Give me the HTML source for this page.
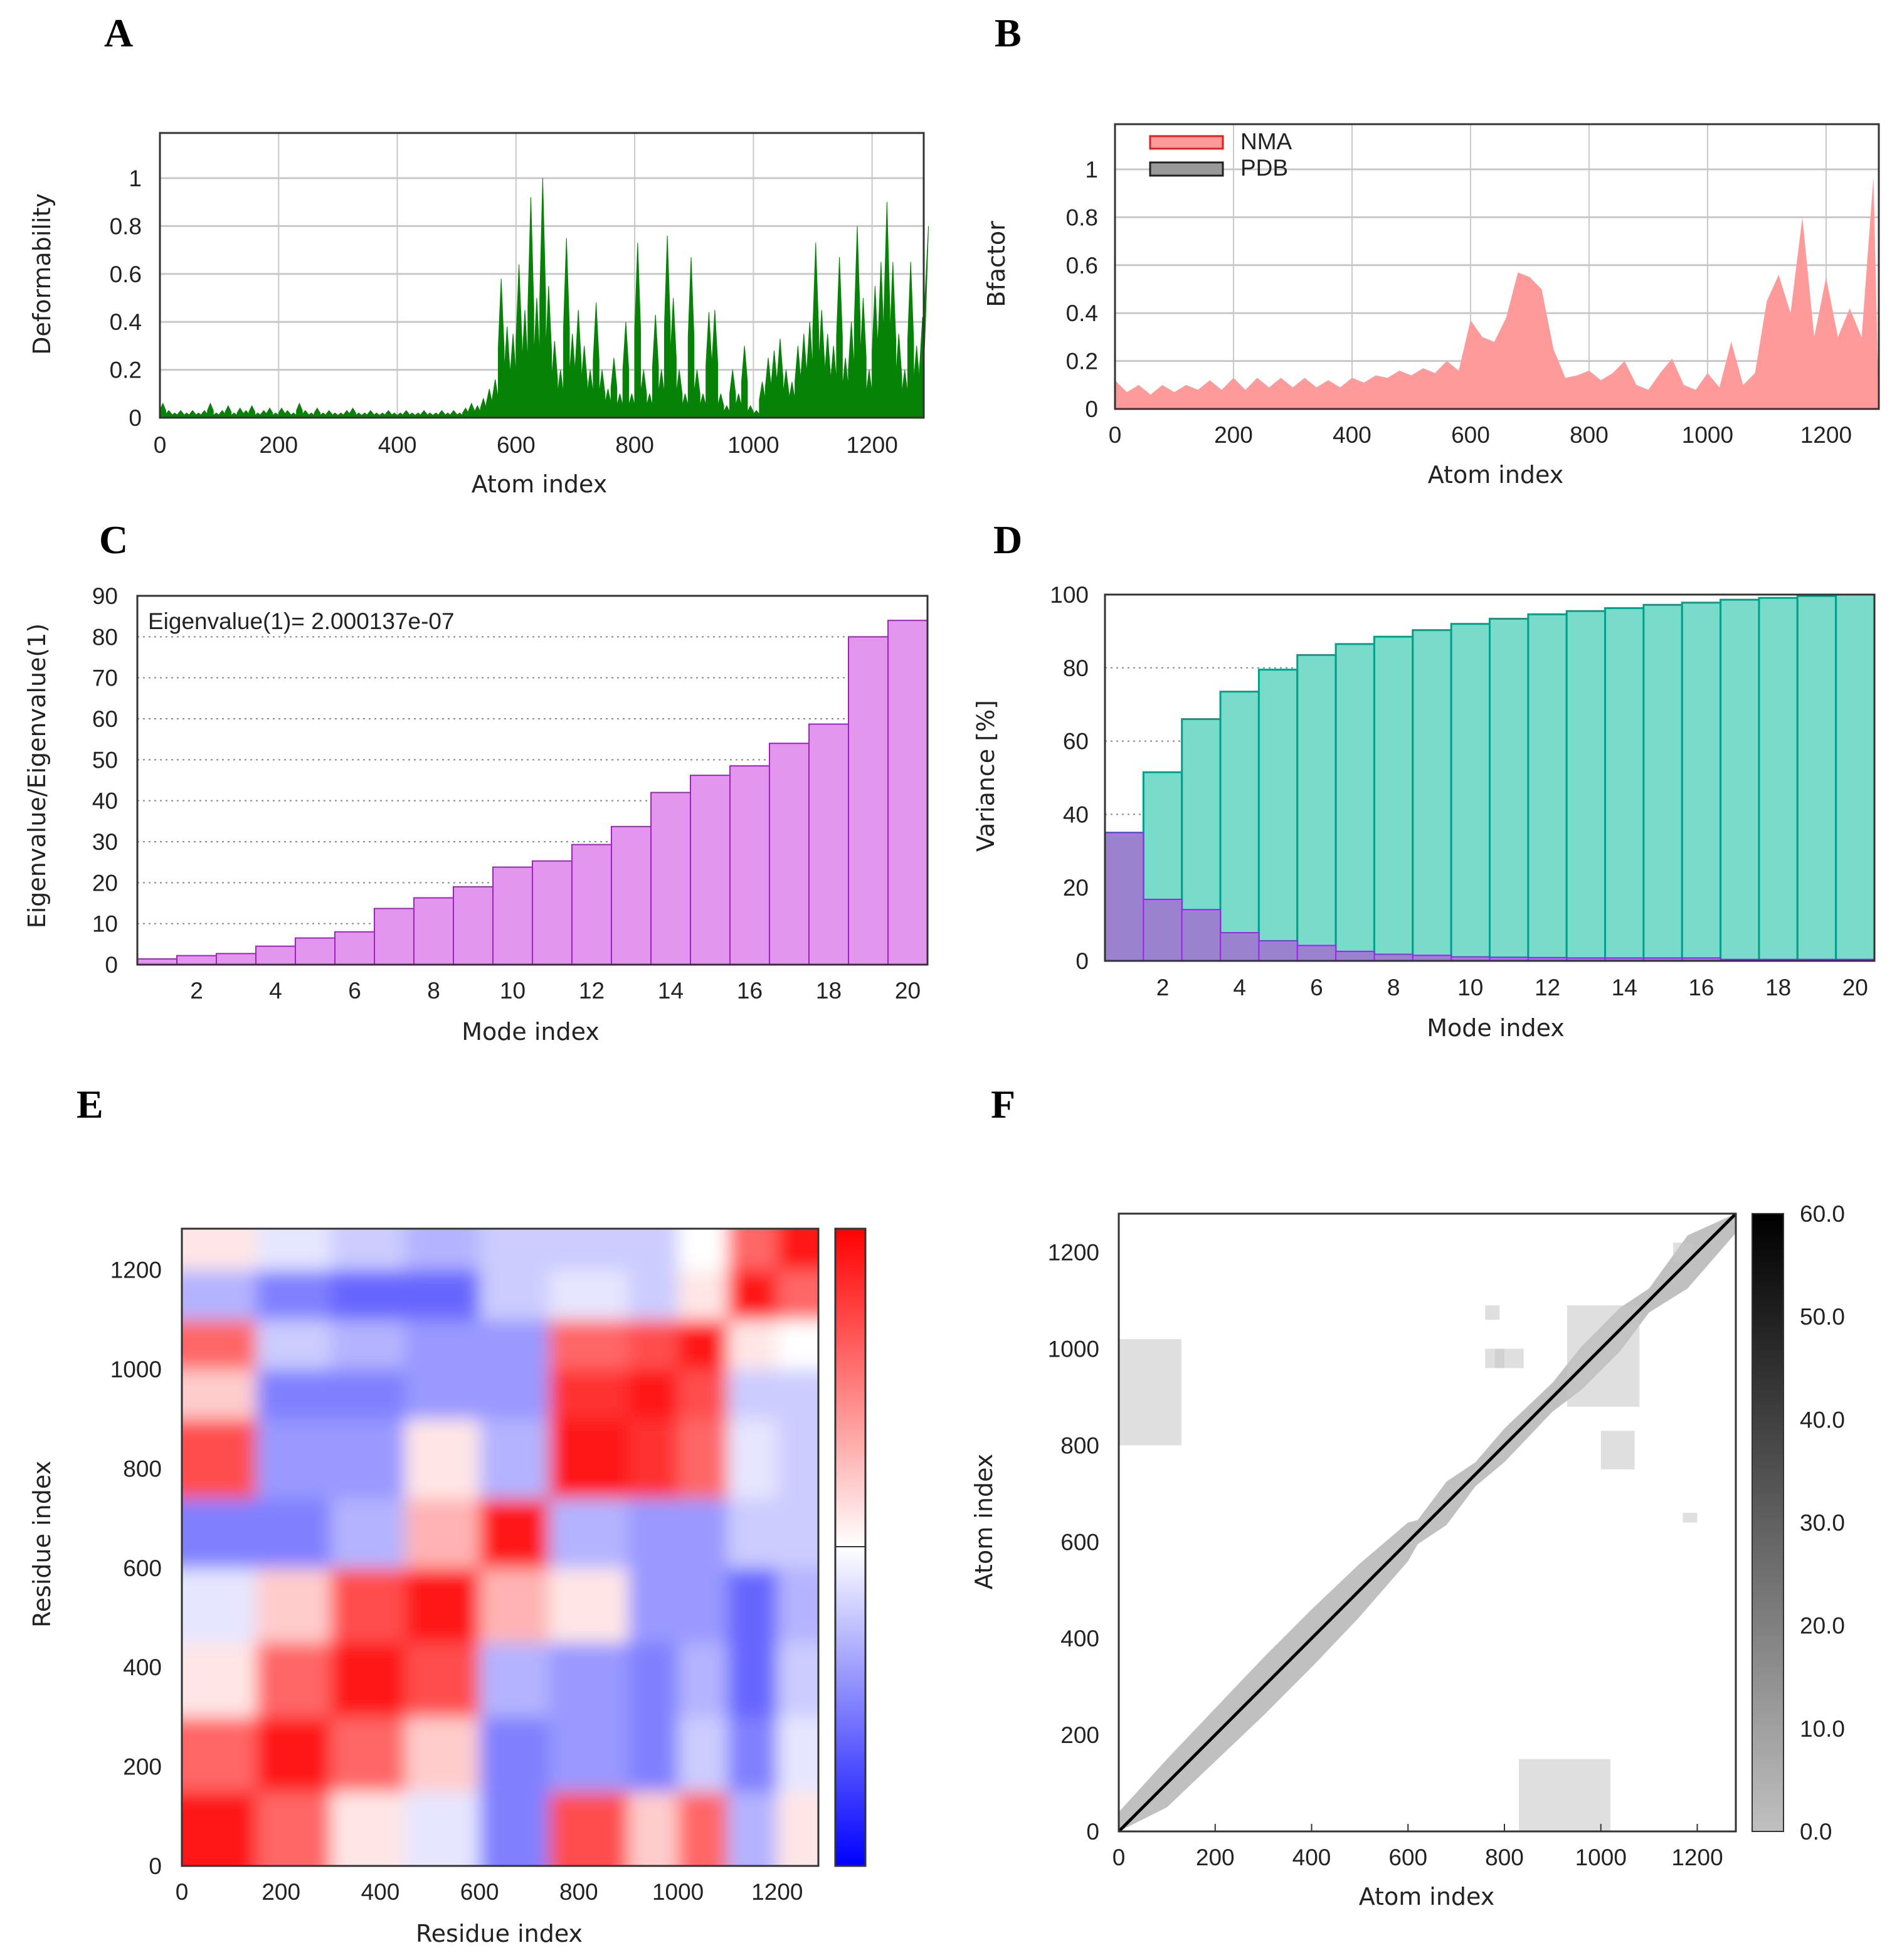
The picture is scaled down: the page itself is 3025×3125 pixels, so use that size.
<!DOCTYPE html>
<html><head><meta charset="utf-8">
<style>
html,body{margin:0;padding:0;background:#fff;}
svg{display:block;}
text{font-family:"Liberation Sans","DejaVu Sans",sans-serif;fill:#222;}
.pl{font-family:"Liberation Serif",serif;font-weight:bold;font-size:64px;fill:#000;}
.tk{font-size:37px;}
.ttl{font-size:38px;font-family:"DejaVu Sans","Liberation Sans",sans-serif;}
</style></head>
<body>
<svg id="fig" xmlns="http://www.w3.org/2000/svg" width="3025" height="3125" viewBox="0 0 3025 3125">
<rect width="3025" height="3125" fill="#fff"/>
<text class="pl" x="166" y="74">A</text>
<text class="pl" x="1586" y="74">B</text>
<text class="pl" x="158" y="882">C</text>
<text class="pl" x="1584" y="882">D</text>
<text class="pl" x="122" y="1782">E</text>
<text class="pl" x="1580" y="1782">F</text>
</svg>
<script>
// ---------- DATA ----------
const defStep = 10;
const deformability = [0.06,0.03,0.02,0.03,0.02,0.03,0.02,0.03,0.06,0.02,0.03,0.05,0.02,0.04,0.03,0.05,0.02,0.03,0.04,0.02,
0.04,0.03,0.02,0.06,0.03,0.02,0.04,0.02,0.03,0.02,0.02,0.03,0.04,0.02,0.02,0.03,0.02,0.02,0.03,0.02,
0.02,0.03,0.02,0.02,0.03,0.02,0.02,0.03,0.02,0.03,0.02,0.04,0.06,0.05,0.08,0.12,0.16,0.58,0.38,0.35,
0.64,0.45,0.92,0.5,1.0,0.55,0.32,0.2,0.75,0.35,0.45,0.3,0.2,0.48,0.2,0.12,0.25,0.1,0.4,0.1,
0.73,0.2,0.1,0.43,0.2,0.76,0.5,0.2,0.1,0.67,0.2,0.1,0.44,0.45,0.1,0.05,0.2,0.1,0.3,0.05,
0.03,0.15,0.25,0.28,0.33,0.2,0.15,0.3,0.35,0.4,0.73,0.45,0.35,0.3,0.67,0.25,0.4,0.8,0.5,0.2,
0.55,0.65,0.9,0.65,0.35,0.2,0.65,0.3,0.42,0.8];
const bStep = 20;
const bfactorNMA = [0.12,0.07,0.1,0.06,0.1,0.07,0.1,0.08,0.12,0.08,0.13,0.08,0.13,0.09,0.13,0.09,0.13,0.09,0.12,0.09,
0.13,0.11,0.14,0.13,0.16,0.14,0.17,0.15,0.2,0.16,0.37,0.3,0.28,0.38,0.57,0.55,0.5,0.25,0.13,0.14,
0.16,0.12,0.15,0.2,0.1,0.08,0.15,0.21,0.1,0.08,0.15,0.09,0.28,0.1,0.15,0.45,0.56,0.4,0.8,0.3,
0.55,0.3,0.42,0.3,0.97];
const modesC = [1,2,3,4,5,6,7,8,9,10,11,12,13,14,15,16,17,18,19,20];
const eigRatio = [1.4,2.2,2.7,4.5,6.5,8,13.7,16.3,19,23.8,25.3,29.3,33.7,42,46.2,48.5,54,58.7,80,84];
const ticksC = [0,10,20,30,40,50,60,70,80,90];
const modesD = [1,2,3,4,5,6,7,8,9,10,11,12,13,14,15,16,17,18,19,20];
const varCumulative = [35,51.5,66,73.5,79.5,83.5,86.5,88.5,90.3,92,93.4,94.6,95.5,96.3,97.2,97.8,98.6,99.1,99.6,100];
const varIndividual = [35,16.8,14,7.7,5.5,4.2,2.6,1.8,1.5,1.1,1.0,0.9,0.8,0.8,0.8,0.8,0.4,0.4,0.4,0.4];
const ticksD = [0,20,40,60,80,100];
const segEdges = [0,150,300,450,600,740,900,1000,1100,1200,1283];
const corr = [
[0.9,0.6,0.1,-0.1,-0.5,0.7,0.2,0.6,-0.3,0.1],
[0.6,0.9,0.6,0.2,-0.5,-0.4,-0.5,-0.2,-0.5,-0.1],
[0.1,0.6,0.9,0.7,-0.3,-0.4,-0.5,-0.3,-0.6,-0.2],
[-0.1,0.2,0.7,0.9,0.3,0.1,-0.4,-0.4,-0.6,-0.3],
[-0.5,-0.5,-0.3,0.3,0.9,-0.3,-0.4,-0.4,-0.2,-0.2],
[0.7,-0.4,-0.4,0.1,-0.3,0.9,0.8,0.6,-0.1,-0.2],
[0.2,-0.5,-0.5,-0.4,-0.4,0.8,0.9,0.7,-0.2,-0.2],
[0.6,-0.2,-0.3,-0.4,-0.4,0.6,0.7,0.9,0.1,0.0],
[-0.3,-0.5,-0.6,-0.6,-0.2,-0.1,-0.2,0.1,0.9,0.6],
[0.1,-0.1,-0.2,-0.3,-0.2,-0.2,-0.2,0.0,0.6,0.9]];
const bandX = [0,100,200,300,400,500,600,620,680,740,800,900,960,1040,1100,1180,1280];
const bandHalf = [40,50,55,60,60,55,40,25,45,25,35,30,45,45,25,55,40];
const clustX0 = [0,830,760,1000,780,760,1150,930,1170];
const clustX1 = [130,1020,800,1070,840,790,1190,1080,1200];
const clustY0 = [800,0,960,750,960,1060,1180,880,640];
const clustY1 = [1020,150,1000,830,1000,1090,1220,1090,660];
const cbTicksF = [0,10,20,30,40,50,60];

// ---------- HELPERS ----------
const NS = "http://www.w3.org/2000/svg";
const fig = document.getElementById('fig');
function mk(tag, attrs, parent){const e=document.createElementNS(NS,tag);for(const k in attrs)e.setAttribute(k,attrs[k]);(parent||fig).appendChild(e);return e;}
function lin(d0,d1,r0,r1){return v=>r0+(v-d0)/(d1-d0)*(r1-r0);}
function txt(x,y,s,cls,anchor,parent){const t=mk('text',{x:x,y:y,'class':cls,'text-anchor':anchor||'middle'},parent);t.textContent=s;return t;}

// ---------- PANEL A ----------
(function(){
 const g=mk('g',{});
 
 
 const X=lin(0,1287,255,1473), Y=lin(0,1,666,284);
 [0,200,400,600,800,1000,1200].forEach(v=>{const l=mk('line',{x1:X(v),x2:X(v),y1:212,y2:666,stroke:'#c8c8c8','stroke-width':2},g);
 
 const t=txt(X(v),722,String(v),'tk','middle',g);
 });
 [0,0.2,0.4,0.6,0.8,1].forEach(v=>{const l=mk('line',{x1:255,x2:1473,y1:Y(v),y2:Y(v),stroke:'#c8c8c8','stroke-width':3},g);
 
 const t=txt(226,Y(v)+13,String(v),'tk','end',g);
 });
 let d='M'+X(0)+','+Y(0);
 deformability.forEach((v,i)=>{const a=i*defStep,b=Math.min(1287,a+defStep);const m=a+defStep*0.5;
  d+=' L'+X(a)+','+Y(v*0.5)+' L'+X(m)+','+Y(v)+' L'+X(b)+','+Y(v*0.5);});
 d+=' L'+X(1287)+','+Y(0)+'Z';
 const p=mk('path',{d:d,fill:'#068206',stroke:'#068206','stroke-width':1},g);
 
 const r=mk('rect',{x:255,y:212,width:1218,height:454,fill:'none',stroke:'#333','stroke-width':3},g);
 
 const xt=txt(860,785,'Atom index','ttl','middle',g);
 
 const yt=txt(0,0,'Deformability','ttl','middle',g);yt.setAttribute('transform','translate(80,437) rotate(-90)');
 
})();

// ---------- PANEL B ----------
(function(){
 const g=mk('g',{});
 
 
 const X=lin(0,1289,1778,2996), Y=lin(0,1,652,270);
 [0,200,400,600,800,1000,1200].forEach(v=>{const l=mk('line',{x1:X(v),x2:X(v),y1:198,y2:652,stroke:'#c8c8c8','stroke-width':2},g);
 
 const t=txt(X(v),706,String(v),'tk','middle',g);
 });
 [0,0.2,0.4,0.6,0.8,1].forEach(v=>{const l=mk('line',{x1:1778,x2:2996,y1:Y(v),y2:Y(v),stroke:'#c8c8c8','stroke-width':3},g);
 
 const t=txt(1751,Y(v)+13,String(v),'tk','end',g);
 });
 let d='M'+X(0)+','+Y(0);
 bfactorNMA.forEach((v,i)=>{d+=' L'+X(Math.min(1289,i*bStep))+','+Y(v);});
 d+=' L'+X(1289)+','+Y(0)+'Z';
 const p=mk('path',{d:d,fill:'#ff9a9a'},g);
 
 const r=mk('rect',{x:1778,y:198,width:1218,height:454,fill:'none',stroke:'#333','stroke-width':3},g);
 
 const l1=mk('rect',{x:1834,y:217,width:116,height:20,fill:'#ff9a9a',stroke:'#e02020','stroke-width':3},g);
 
 const t1=txt(1978,238,'NMA','tk','start',g);
 
 const l2=mk('rect',{x:1834,y:259,width:116,height:21,fill:'#999',stroke:'#222','stroke-width':3},g);
 
 const t2=txt(1978,280,'PDB','tk','start',g);
 
 const xt=txt(2385,770,'Atom index','ttl','middle',g);
 
 const yt=txt(0,0,'Bfactor','ttl','middle',g);yt.setAttribute('transform','translate(1602,421) rotate(-90)');
 
})();

// ---------- PANEL C ----------
(function(){
 const g=mk('g',{});
 
 
 const X=lin(0.5,20.5,219,1479), Y=lin(0,90,1538,950);
 ticksC.forEach(v=>{const l=mk('line',{x1:219,x2:1479,y1:Y(v),y2:Y(v),stroke:'#888','stroke-width':2,'stroke-dasharray':'3,6'},g);
 
 const t=txt(188,Y(v)+13,String(v),'tk','end',g);
 });
 modesC.forEach((m,i)=>{const b=mk('rect',{x:X(m-0.5),y:Y(eigRatio[i]),width:X(m+0.5)-X(m-0.5),height:Y(0)-Y(eigRatio[i]),fill:'#e396ee',stroke:'#a020c0','stroke-width':2},g);
 
 if(m%2===0){const t=txt(X(m),1592,String(m),'tk','middle',g);
 }});
 const r=mk('rect',{x:219,y:950,width:1260,height:588,fill:'none',stroke:'#333','stroke-width':3},g);
 
 const a=txt(236,1003,'Eigenvalue(1)= 2.000137e-07','tk','start',g);
 
 const xt=txt(846,1658,'Mode index','ttl','middle',g);
 
 const yt=txt(0,0,'Eigenvalue/Eigenvalue(1)','ttl','middle',g);yt.setAttribute('transform','translate(72,1237) rotate(-90)');
 
})();

// ---------- PANEL D ----------
(function(){
 const g=mk('g',{});
 
 
 const X=lin(0.5,20.5,1762,2989), Y=lin(0,100,1532,948);
 ticksD.forEach(v=>{const l=mk('line',{x1:1762,x2:2989,y1:Y(v),y2:Y(v),stroke:'#888','stroke-width':2,'stroke-dasharray':'3,6'},g);
 
 const t=txt(1736,Y(v)+13,String(v),'tk','end',g);
 });
 modesD.forEach((m,i)=>{const b=mk('rect',{x:X(m-0.5),y:Y(varCumulative[i]),width:X(m+0.5)-X(m-0.5),height:Y(0)-Y(varCumulative[i]),fill:'#79dbc9',stroke:'#00a08a','stroke-width':3},g);
 });
 modesD.forEach((m,i)=>{const b=mk('rect',{x:X(m-0.5),y:Y(varIndividual[i]),width:X(m+0.5)-X(m-0.5),height:Y(0)-Y(varIndividual[i]),fill:'#9b82cf',stroke:'#a020f0','stroke-width':2},g);
 
 if(m%2===0){const t=txt(X(m),1587,String(m),'tk','middle',g);
 }});
 const r=mk('rect',{x:1762,y:948,width:1227,height:584,fill:'none',stroke:'#333','stroke-width':3},g);
 
 const xt=txt(2385,1652,'Mode index','ttl','middle',g);
 
 const yt=txt(0,0,'Variance [%]','ttl','middle',g);yt.setAttribute('transform','translate(1585,1237) rotate(-90)');
 
})();

// ---------- PANEL E ----------
function corrColor(v){v=Math.max(-1,Math.min(1,v));
 if(v>=0){const c=Math.round(255*(1-v));return 'rgb(255,'+c+','+c+')';}
 const c=Math.round(255*(1+v));return 'rgb('+c+','+c+',255)';}
(function(){
 const g=mk('g',{});
 
 
 const X=lin(0,1283,290,1305), Y=lin(0,1283,2975,1959);
 const defs=mk('defs',{},g);
 const cp=mk('clipPath',{id:'clipE'},defs);
 mk('rect',{x:290,y:1959,width:1015,height:1016},cp);
 const fl=mk('filter',{id:'blurE',x:'-5%',y:'-5%',width:'110%',height:'110%'},defs);
 mk('feGaussianBlur',{stdDeviation:14,edgeMode:'duplicate'},fl);
 const outer=mk('g',{'clip-path':'url(#clipE)'},g);
 const cells=mk('g',{filter:'url(#blurE)'},outer);
 for(let i=0;i<corr.length;i++)for(let j=0;j<corr[i].length;j++){
  const c=mk('rect',{x:X(segEdges[j])-(j===0?30:0),y:Y(segEdges[i+1])-(i===corr.length-1?30:0),width:X(segEdges[j+1])-X(segEdges[j])+0.5+((j===0||j===corr.length-1)?30:0),height:Y(segEdges[i])-Y(segEdges[i+1])+0.5+((i===0||i===corr.length-1)?30:0),fill:corrColor(corr[i][j])},cells);
  }
 const r=mk('rect',{x:290,y:1959,width:1015,height:1016,fill:'none',stroke:'#333','stroke-width':3},g);
 
 [0,200,400,600,800,1000,1200].forEach(v=>{
 const t=txt(X(v),3029,String(v),'tk','middle',g);
 
 const u=txt(258,Y(v)+13,String(v),'tk','end',g);
 });
 const lg=mk('linearGradient',{id:'cbE',x1:0,y1:1,x2:0,y2:0},defs);
 mk('stop',{offset:'0','stop-color':'#0000ff'},lg);mk('stop',{offset:'0.5','stop-color':'#ffffff'},lg);mk('stop',{offset:'1','stop-color':'#ff0000'},lg);
 const cb=mk('rect',{x:1332,y:1959,width:48,height:1016,fill:'url(#cbE)',stroke:'#333','stroke-width':3},g);
 
 const dv=mk('line',{x1:1332,x2:1380,y1:2466,y2:2466,stroke:'#333','stroke-width':2},g);
 
 const xt=txt(796,3096,'Residue index','ttl','middle',g);
 
 const yt=txt(0,0,'Residue index','ttl','middle',g);yt.setAttribute('transform','translate(80,2462) rotate(-90)');
 
})();

// ---------- PANEL F ----------
(function(){
 const g=mk('g',{});
 
 
 const X=lin(0,1280,1784,2768), Y=lin(0,1280,2920,1935);
 let up='',dn='';
 bandX.forEach((v,i)=>{up+=(i?' L':'M')+X(v)+','+Y(Math.min(1280,v+bandHalf[i]));});
 for(let i=bandX.length-1;i>=0;i--){dn+=' L'+X(bandX[i])+','+Y(Math.max(0,bandX[i]-bandHalf[i]));}
 const band=mk('path',{d:up+dn+'Z',fill:'#c0c0c0'},g);
 
 clustX0.forEach((x0,i)=>{const c=mk('rect',{x:X(x0),y:Y(clustY1[i]),width:X(clustX1[i])-X(x0),height:Y(clustY0[i])-Y(clustY1[i]),fill:'#c4c4c4','fill-opacity':0.55},g);
 });
 const dg=mk('line',{x1:X(0),y1:Y(0),x2:X(1280),y2:Y(1280),stroke:'#000','stroke-width':5},g);
 
 const r=mk('rect',{x:1784,y:1935,width:984,height:985,fill:'none',stroke:'#333','stroke-width':3},g);
 
 [0,200,400,600,800,1000,1200].forEach(v=>{
 const tk=mk('line',{x1:X(v),x2:X(v),y1:2920,y2:2908,stroke:'#333','stroke-width':2},g);
 
 const t=txt(X(v),2974,String(v),'tk','middle',g);
 
 const u=txt(1753,Y(v)+13,String(v),'tk','end',g);
 });
 const defs=mk('defs',{},g);
 const lg=mk('linearGradient',{id:'cbF',x1:0,y1:1,x2:0,y2:0},defs);
 mk('stop',{offset:'0','stop-color':'#c0c0c0'},lg);mk('stop',{offset:'1','stop-color':'#000'},lg);
 const cb=mk('rect',{x:2794,y:1935,width:50,height:985,fill:'url(#cbF)',stroke:'#333','stroke-width':2},g);
 
 const C=lin(0,60,2920,1935);
 cbTicksF.forEach(v=>{const t=txt(2870,C(v)+13,v.toFixed(1),'tk','start',g);
 });
 const xt=txt(2275,3037,'Atom index','ttl','middle',g);
 
 const yt=txt(0,0,'Atom index','ttl','middle',g);yt.setAttribute('transform','translate(1582,2426) rotate(-90)');
 
})();
</script>
</body></html>
